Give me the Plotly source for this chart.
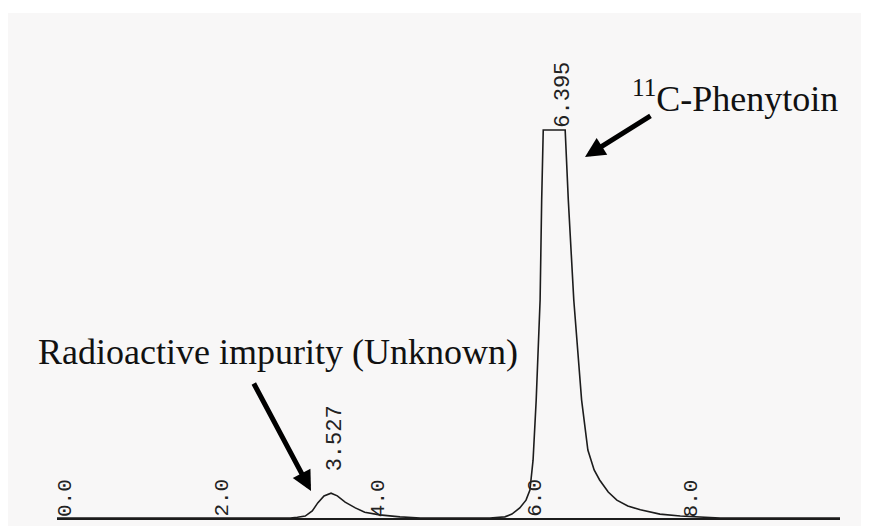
import plotly.graph_objects as go

# Chromatogram trace (time in min, detector signal, clipped at 100)
times = [0.0, 2.98, 3.07, 3.17, 3.26, 3.33, 3.41, 3.50, 3.58, 3.68, 3.81, 3.93, 4.12, 4.38, 4.64,
         5.53, 5.72, 5.81, 5.91, 5.99, 6.04, 6.08, 6.12, 6.17, 6.19, 6.21,
         6.49, 6.53, 6.60, 6.70, 6.78, 6.86, 6.93, 7.04, 7.15, 7.29, 7.45, 7.70, 7.96, 8.21, 8.47, 10.0]
signal = [0.0, 0.0, 0.2, 0.5, 1.8, 3.9, 5.7, 6.4, 5.7, 4.1, 2.6, 1.5, 0.8, 0.3, 0.0,
          0.0, 0.3, 1.0, 2.6, 4.6, 7.2, 14.9, 30.4, 56.2, 82.0, 100.0,
          100.0, 82.0, 56.2, 30.4, 17.5, 12.4, 9.8, 6.7, 4.6, 3.1, 2.1, 1.0, 0.5, 0.2, 0.0, 0.0]

tick_vals = [0, 2, 4, 6, 8]
tick_text = ["0.0", "2.0", "4.0", "6.0", "8.0"]

peak_times = [3.527, 6.395]
peak_heights = [6.4, 100.0]
peak_labels = ["3.527", "6.395"]

OFF = 8  # page body margin
W, H = 869 - OFF, 526 - OFF
ML, MR, MT, MB = 57 - OFF, W - (840 - OFF), 0, 8
PW, PH = W - ML - MR, H - MT - MB


def px(x):
    return (x - OFF - ML) / PW


def py(y):
    return (H - MB - (y - OFF)) / PH


fig = go.Figure()
fig.add_trace(go.Scatter(x=times, y=signal, mode="lines",
                         line=dict(color="#1c1c1c", width=1.6),
                         hoverinfo="skip", showlegend=False, cliponaxis=False))

ink = "#111111"
mono_tick = dict(family="Liberation Mono, DejaVu Sans Mono, monospace", size=21, color="#222")
mono_peak = dict(family="Liberation Mono, DejaVu Sans Mono, monospace", size=22, color="#222")
serif = dict(family="Liberation Serif, Times New Roman, serif", size=36, color=ink)

annotations = []
for t, lab in zip(tick_vals, tick_text):
    annotations.append(dict(x=t, y=0, xref="x", yref="y", text=lab, showarrow=False,
                            textangle=-90, font=mono_tick, xanchor="center", yanchor="bottom",
                            xshift=8, yshift=-1))
for t, h, lab in zip(peak_times, peak_heights, peak_labels):
    annotations.append(dict(x=t, y=h, xref="x", yref="y", text=lab, showarrow=False,
                            textangle=-90, font=mono_peak, xanchor="center", yanchor="bottom",
                            yshift=20 if h < 50 else 0, xshift=2 if h < 50 else 5))

annotations += [
    dict(x=px(278), y=py(352), xref="paper", yref="paper",
         text="Radioactive impurity (Unknown)", showarrow=False, font=serif,
         xanchor="center", yanchor="middle"),
    dict(x=px(735), y=py(96), xref="paper", yref="paper",
         text="<sup>11</sup>C-Phenytoin", showarrow=False, font=serif,
         xanchor="center", yanchor="middle"),
    dict(x=px(585), y=py(157), xref="paper", yref="paper", text="", showarrow=True,
         ax=67, ay=-42, arrowhead=2, arrowwidth=5, arrowsize=0.8, arrowcolor="#000"),
    dict(x=px(311), y=py(491), xref="paper", yref="paper", text="", showarrow=True,
         ax=-58, ay=-109, arrowhead=2, arrowwidth=5, arrowsize=0.8, arrowcolor="#000"),
]

fig.update_layout(
    width=W, height=H,
    margin=dict(l=ML, r=MR, t=MT, b=MB, pad=0),
    paper_bgcolor="white", plot_bgcolor="rgba(0,0,0,0)",
    xaxis=dict(range=[0, 10], showgrid=False, zeroline=False, showline=True,
               linecolor="#1c1c1c", linewidth=1.6, ticks="", showticklabels=False),
    yaxis=dict(range=[0, PH / 3.88], visible=False),
    annotations=annotations,
    shapes=[dict(type="rect", xref="paper", yref="paper", layer="below",
                 x0=px(8), x1=px(869), y0=py(526), y1=py(13),
                 fillcolor="#f8f7f7", line=dict(width=0))],
)

fig.write_html("out.html")
